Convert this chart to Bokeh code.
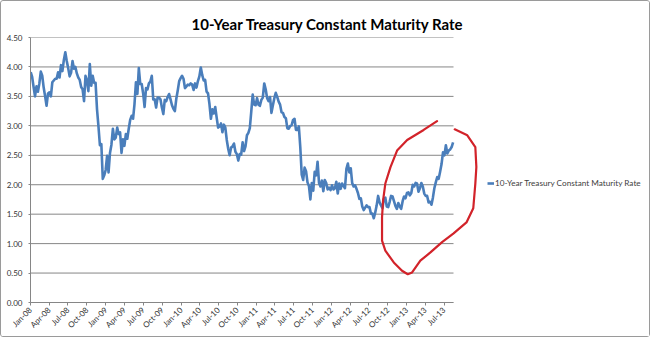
import math
import pandas as pd
from bokeh.plotting import figure
from bokeh.models import (DatetimeTickFormatter, FixedTicker, Legend, LegendItem,
                          NumeralTickFormatter, ColumnDataSource, Range1d)
from bokeh.embed import file_html
from bokeh.resources import INLINE

# ---------------- data (weekly readings, Wednesdays) ----------------
first_week = "2008-01-02"
rate_2008 = [3.91, 3.83, 3.66, 3.50, 3.67, 3.58, 3.72, 3.92, 3.85, 3.65,
             3.50, 3.34, 3.55, 3.57, 3.50, 3.74, 3.77, 3.80, 3.80, 3.91,
             3.82, 4.03, 3.93, 4.12, 4.25, 4.10, 3.98, 3.84, 3.90, 4.10,
             3.97, 4.00, 3.89, 3.82, 3.78, 3.66, 3.62, 3.42, 3.85, 3.77,
             3.59, 4.05, 3.68, 3.85, 3.73, 3.73, 3.28, 2.99, 2.67, 2.69,
             2.10, 2.16, 2.25]
rate_2009 = [2.49, 2.21, 2.54, 2.68, 2.95, 2.77, 2.80, 2.97, 2.86, 2.89,
             2.54, 2.77, 2.66, 2.86, 2.78, 2.95, 3.10, 3.17, 3.12, 3.37,
             3.74, 3.54, 3.98, 3.71, 3.71, 3.55, 3.32, 3.64, 3.62, 3.72,
             3.75, 3.85, 3.45, 3.45, 3.31, 3.48, 3.48, 3.45, 3.31, 3.20,
             3.44, 3.42, 3.49, 3.54, 3.45, 3.35, 3.29, 3.25, 3.46, 3.60,
             3.76, 3.81]
rate_2010 = [3.85, 3.80, 3.64, 3.67, 3.70, 3.69, 3.72, 3.70, 3.61, 3.72,
             3.65, 3.76, 3.84, 3.99, 3.86, 3.77, 3.78, 3.58, 3.55, 3.37,
             3.12, 3.28, 3.21, 3.32, 3.14, 2.97, 2.99, 3.04, 2.89, 3.02,
             2.97, 2.76, 2.61, 2.50, 2.63, 2.65, 2.70, 2.56, 2.52, 2.41,
             2.52, 2.51, 2.72, 2.57, 2.65, 2.84, 2.88, 2.96, 3.24, 3.53,
             3.36, 3.35]
rate_2011 = [3.47, 3.36, 3.34, 3.44, 3.48, 3.72, 3.62, 3.47, 3.42, 3.49,
             3.22, 3.35, 3.47, 3.56, 3.49, 3.41, 3.36, 3.23, 3.22, 3.15,
             3.13, 2.96, 2.95, 3.00, 3.01, 3.10, 3.12, 2.93, 2.93, 2.99,
             2.64, 2.17, 2.08, 2.29, 2.23, 2.04, 1.98, 1.75, 2.03, 1.90,
             2.22, 2.16, 2.39, 2.03, 1.97, 2.07, 1.89, 2.08, 2.03, 1.92,
             1.95, 1.91]
rate_2012 = [1.99, 1.92, 1.94, 2.05, 1.85, 2.02, 1.93, 2.02, 1.98, 1.94,
             2.27, 2.36, 2.21, 2.28, 2.03, 1.97, 1.99, 1.93, 1.86, 1.76,
             1.77, 1.63, 1.57, 1.61, 1.65, 1.62, 1.62, 1.51, 1.51, 1.43,
             1.53, 1.65, 1.81, 1.70, 1.65, 1.60, 1.76, 1.78, 1.63, 1.62,
             1.71, 1.81, 1.80, 1.72, 1.64, 1.59, 1.69, 1.63, 1.59, 1.72,
             1.80, 1.77]
rate_2013 = [1.86, 1.87, 1.82, 1.86, 2.00, 1.97, 2.03, 2.02, 1.88, 1.94,
             2.03, 1.97, 1.85, 1.81, 1.81, 1.70, 1.71, 1.66, 1.78, 1.94,
             2.04, 2.13, 2.10, 2.22, 2.35, 2.55, 2.50, 2.67, 2.53, 2.58,
             2.60, 2.64, 2.72]

series_name = "10-Year Treasury Constant Maturity Rate"
chart_title = "10-Year Treasury Constant Maturity Rate"
y_ticks = [0.0, 0.5, 1.0, 1.5, 2.0, 2.5, 3.0, 3.5, 4.0, 4.5]
x_tick_dates = ["2008-01-01", "2008-04-01", "2008-07-01", "2008-10-01",
                "2009-01-01", "2009-04-01", "2009-07-01", "2009-10-01",
                "2010-01-01", "2010-04-01", "2010-07-01", "2010-10-01",
                "2011-01-01", "2011-04-01", "2011-07-01", "2011-10-01",
                "2012-01-01", "2012-04-01", "2012-07-01", "2012-10-01",
                "2013-01-01", "2013-04-01", "2013-07-01"]
x_axis_end = "2013-08-16"

# hand-drawn red annotation (date, value) along the stroke
mark_dates = ["2013-05-28", "2013-03-24", "2013-01-03", "2012-11-15", "2012-10-14",
              "2012-09-19", "2012-09-08", "2012-09-03", "2012-09-03", "2012-09-19",
              "2012-10-30", "2012-12-09", "2013-01-06", "2013-01-27", "2013-03-08",
              "2013-04-26", "2013-06-23", "2013-08-15", "2013-10-18", "2013-11-20",
              "2013-11-30", "2013-12-05", "2013-11-30", "2013-10-22", "2013-08-22"]
mark_values = [3.08, 2.93, 2.76, 2.58, 2.30, 2.02, 1.73, 1.45, 1.05, 0.88,
               0.68, 0.54, 0.48, 0.51, 0.71, 0.85, 1.03, 1.17, 1.36, 1.60,
               2.02, 2.30, 2.64, 2.84, 2.94]

# ---------------- build ----------------
rates = rate_2008 + rate_2009 + rate_2010 + rate_2011 + rate_2012 + rate_2013
dates = pd.date_range(first_week, periods=len(rates), freq="7D")

def ms(d):
    return pd.Timestamp(d).value / 1e6

FONT = "Lato"
GRID = "#868686"

W, H = 650, 337
FRAME_L, FRAME_R = 29, 648          # canvas px of the drawing area
AXIS_R = 452                        # canvas px where the date axis ends
x0, x_end = ms(x_tick_dates[0]), ms(x_axis_end)
x_range_end = x0 + (x_end - x0) * (FRAME_R - FRAME_L) / (AXIS_R - FRAME_L)

p = figure(width=W, height=H, x_axis_type="datetime",
           output_backend="svg", toolbar_location=None,
           x_range=Range1d(x0, x_range_end),
           y_range=Range1d(y_ticks[0], y_ticks[-1]),
           min_border_left=FRAME_L, min_border_right=W - FRAME_R,
           min_border_top=36, min_border_bottom=36)
p.styles = {"border": "1px solid #9a9a9a", "border-radius": "3px"}
p.background_fill_color = "white"
p.border_fill_color = "white"
p.outline_line_color = None

p.title.text = chart_title
p.title.align = "left"
p.title.offset = 161
p.title.text_font = FONT
p.title.text_font_style = "bold"
p.title.text_font_size = "15px"
p.title.text_color = "#000000"

# horizontal gridlines limited to the date axis
p.xgrid.visible = False
p.ygrid.visible = False
p.segment(x0=[x0] * len(y_ticks), x1=[x_end] * len(y_ticks), y0=y_ticks, y1=y_ticks,
          line_color=GRID, line_width=1)

src = ColumnDataSource(dict(x=dates, y=rates))
line = p.line("x", "y", source=src, line_color="#4A7EBB", line_width=2.6, line_join="round")

# axes
p.yaxis.ticker = FixedTicker(ticks=y_ticks)
p.yaxis.formatter = NumeralTickFormatter(format="0.00")
p.xaxis.ticker = FixedTicker(ticks=[ms(d) for d in x_tick_dates])
p.xaxis.bounds = (x0, x_end)
fmt = "%b-%y"
p.xaxis.formatter = DatetimeTickFormatter(years=fmt, months=fmt, days=fmt, hours=fmt,
                                          minutes=fmt, seconds=fmt, milliseconds=fmt,
                                          minsec=fmt, hourmin=fmt)
p.xaxis.major_label_orientation = math.pi / 4
for ax in (p.xaxis, p.yaxis):
    ax.axis_line_color = GRID
    ax.major_tick_line_color = GRID
    ax.minor_tick_line_color = None
    ax.major_tick_in = 0
    ax.major_label_text_font = FONT
    ax.major_label_text_font_size = "8px"
    ax.major_label_text_color = "#333333"
p.xaxis.major_tick_out = 3
p.yaxis.major_tick_out = 2
p.yaxis.major_label_standoff = 6
p.xaxis.major_label_standoff = 3

# red hand-drawn annotation
mx = pd.to_datetime(mark_dates)
p.line(mx, mark_values, line_color="#D2232A", line_width=2.2,
       line_cap="round", line_join="round")

# legend to the right of the data
legend = Legend(items=[LegendItem(label=series_name, renderers=[line])],
                location=(457, 114), padding=0, margin=0, spacing=0,
                glyph_width=7, glyph_height=10, label_standoff=1,
                border_line_color=None, background_fill_alpha=0,
                label_text_font=FONT, label_text_font_size="8.2px",
                label_text_color="#404040")
p.add_layout(legend)

open("out.html", "w").write(file_html(p, INLINE))
